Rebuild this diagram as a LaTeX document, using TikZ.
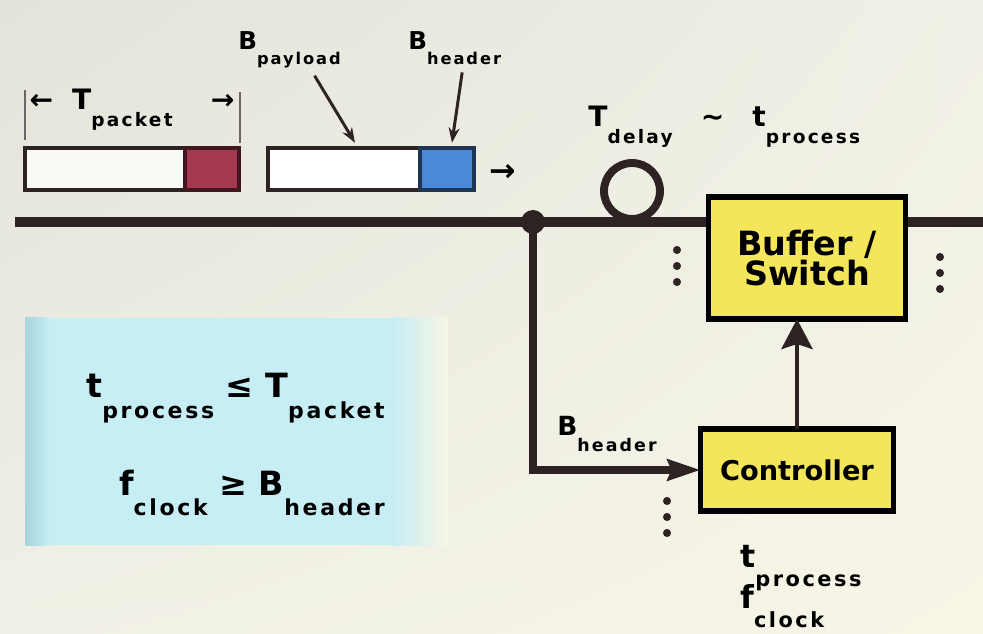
\documentclass[tikz,border=0pt]{standalone}
\usepackage{fontspec}
\setmainfont{DejaVu Sans}
\usepackage{xcolor}
\definecolor{colBgA}{HTML}{E3E3DA}
\definecolor{colBgB}{HTML}{F1F0E6}
\definecolor{colBgC}{HTML}{F7F5E6}
\definecolor{colWire}{HTML}{2E2323}
\definecolor{colHdrRed}{HTML}{A3384E}
\definecolor{colHdrBlue}{HTML}{4A88D8}
\definecolor{colYellow}{HTML}{F4E65A}
\definecolor{colPanel}{HTML}{C6EEF4}
\definecolor{colPanelEdge}{HTML}{A8D4DE}
\usepackage{tikz}
\usetikzlibrary{arrows.meta, positioning, shadings}
\newcommand{\qsub}[2]{#1\raisebox{-1.1ex}{\scalebox{0.66}{\addfontfeature{LetterSpace=12}#2}}}
\tikzset{
    pkbody/.style={
        draw=colWire, fill=white, line width=2.2pt,
        minimum height=0.84cm, outer sep=0pt, inner sep=0pt
    },
    pkhdr/.style={
        pkbody, draw=#1!40!black, fill=#1, minimum width=1.08cm
    },
    pkhdr/.default=colHdrRed,
    unitbox/.style={
        draw=black, fill=colYellow, line width=3pt,
        align=center, outer sep=0pt
    },
    lbl/.style={inner sep=0pt, font=\fontsize{#1}{#1}\selectfont\bfseries},
    lbl/.default=16,
    wire/.style={line width=6pt, color=colWire},
    feed/.style={line width=4pt, color=colWire},
    ptr/.style={-{Stealth[length=0.3cm,width=0.22cm]}, line width=1.7pt, color=colWire},
    tick/.style={line width=1pt, color=colWire!70!white},
}

\begin{document}
\begin{tikzpicture}[x=0.02cm, y=-0.02cm, font=\bfseries, node distance=0.3cm]
    \useasboundingbox (0,0) rectangle (983,634);
    \shade[upper left=colBgA, upper right=colBgB, lower left=colBgB, lower right=colBgC]
        (0,0) rectangle (983,634);

    % condition panel, fades out to the right
    \shade[left color=colPanelEdge, right color=colPanel] (25,318) rectangle (50,545);
    \fill[colPanel] (50,318) rectangle (392,545);
    \shade[left color=colPanel, right color=colBgC] (392,318) rectangle (448,545);
    \node[lbl=19, anchor=base east] (cond1) at (385,398)
          {\qsub{t}{process} ≤ \qsub{T}{packet}};
    \node[lbl=19, anchor=base east] (cond2) at (385,495)
          {\qsub{f}{clock} ≥ \qsub{B}{header}};

    % main fibre
    \coordinate (wireL) at (15,222);
    \coordinate (wireR) at (983,222);
    \draw[wire] (wireL) -- (wireR);

    % packets travelling on the fibre
    \node[pkbody, fill=colBgB!40!white, minimum width=3.2cm, anchor=west] (body1) at (25,169) {};
    \node[pkhdr, right=0pt of body1] (hdr1) {};
    \node[pkbody, minimum width=3.04cm, anchor=west] (body2) at (268,169) {};
    \node[pkhdr=colHdrBlue, right=0pt of body2] (hdr2) {};
    \node[lbl=18, right=0.3cm of hdr2, yshift=-2pt] (pkarr) {→};

    \draw[tick] (25,90) -- (25,140);
    \draw[tick] (240,92) -- (240,143);
    \node[lbl=16, anchor=base] (tpk) at (132,110)
          {\makebox[4.1cm]{←\hfill\qsub{T}{packet}\hfill\hfill→}};

    \node[lbl=14, anchor=base west] (lblPay) at (238,50) {\qsub{B}{payload}};
    \node[lbl=14, anchor=base west] (lblHdr) at (408,50) {\qsub{B}{header}};
    \draw[ptr] ([xshift=0.5cm, yshift=-4pt]lblPay.south) -- ([xshift=0.22cm, yshift=3pt]body2.north);
    \draw[ptr] ([xshift=0.15cm, yshift=-4pt]lblHdr.south) -- ([xshift=0.1cm, yshift=3pt]hdr2.north);

    % tap, delay loop and switching node
    \node[circle, fill=colWire, minimum size=0.48cm, inner sep=0pt] (tap) at (533,222) {};
    \node[circle, draw=colWire, line width=4.5pt, minimum size=1.12cm, inner sep=0pt] (dly) at (632,191) {};
    \node[lbl=16, anchor=base west] (dlyLbl) at (588,127)
          {\qsub{T}{delay}\quad∼\quad\qsub{t}{process}};

    \node[unitbox, minimum width=3.94cm, minimum height=2.44cm,
          font=\fontsize{19}{17.5}\selectfont\bfseries] (buf) at (807,258) {Buffer /\\Switch};
    \node[unitbox, minimum width=3.86cm, minimum height=1.64cm,
          font=\fontsize{15.5}{18}\selectfont\bfseries] (ctrl) at (797,470) {Controller};

    % header tap to controller
    \draw[feed, -{Stealth[length=0.66cm, width=0.42cm, inset=0.08cm]}] (tap.center) |- (ctrl.west);
    \node[lbl=15, anchor=base west] (lblTap) at (557,436) {\qsub{B}{header}};
    \draw[line width=2.8pt, colWire, -{Stealth[length=0.6cm, width=0.62cm, inset=0.1cm]}]
          (ctrl.north) -- (ctrl.north |- buf.south);

    \node[lbl=18, anchor=base west] (tproc) at (740,567) {\qsub{t}{process}};
    \node[lbl=18, anchor=base west] (fclk) at (740,608) {\qsub{f}{clock}};

    % continuation dots
    \foreach \dx/\dy in {677/266, 940/273, 667/517}
        \foreach \k in {-1,0,1}
            \fill[colWire] (\dx,\dy+\k*16) circle (2.3pt);
\end{tikzpicture}
\end{document}
